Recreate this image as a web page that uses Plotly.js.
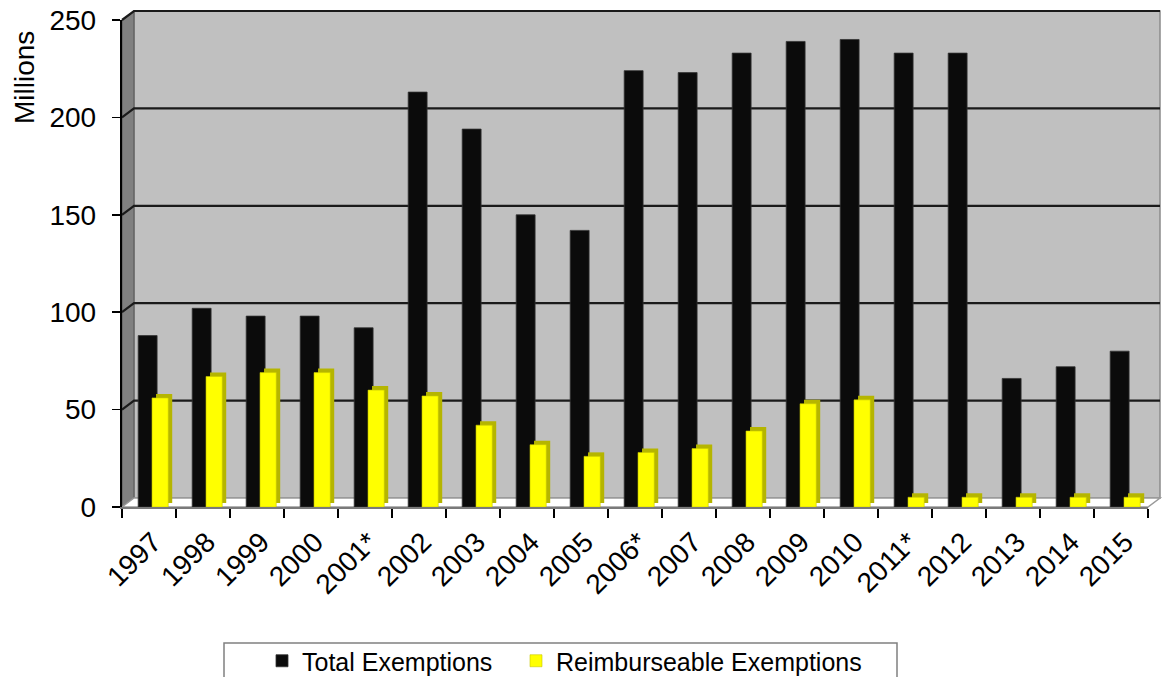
<!DOCTYPE html>
<html>
<head>
<meta charset="utf-8">
<script src="https://cdn.plot.ly/plotly-3.0.1.min.js"></script>
<style>html,body{margin:0;padding:0;background:#fff;}#chart{width:1171px;height:677px;}</style>
</head>
<body>
<div id="chart"></div>
<script>
// ---- data ----
const years = ["1997","1998","1999","2000","2001*","2002","2003","2004","2005","2006*","2007","2008","2009","2010","2011*","2012","2013","2014","2015"];
const totalExemptions = [88,102,98,98,92,213,194,150,142,224,223,233,239,240,233,233,66,72,80];
const reimbExemptions = [56,67,69,69,60,57,42,32,26,28,30,39,53,55,5,5,5,5,5];
const yTicks = [0,50,100,150,200,250];

// ---- geometry (pixels) ----
const WIDTH = 1171, HEIGHT = 677;
const L = 122, R = 1148, T = 20, B = 507;
const PW = R - L, PH = B - T;
const DX = 12, DY = 9; // 3D depth offset
const YMAX = 250;
const px = p => (p - L) / PW;
const py = p => (B - p) / PH;
const pt = (x, y) => px(x) + ',' + py(y);

const FONT = 'Liberation Sans, Arial, sans-serif';

const shapes = [];
// back wall
shapes.push({type:'rect', xref:'paper', yref:'paper', layer:'below',
  x0:px(L+DX), x1:px(R+DX), y0:py(B-DY), y1:py(T-DY),
  fillcolor:'#c0c0c0', line:{color:'#8a8a8a', width:1.5}});
// left side wall
shapes.push({type:'path', xref:'paper', yref:'paper', layer:'below',
  path:'M'+pt(L,T)+' L'+pt(L+DX,T-DY)+' L'+pt(L+DX,B-DY)+' L'+pt(L,B)+' Z',
  fillcolor:'#808080', line:{color:'#555', width:1}});
// floor
shapes.push({type:'path', xref:'paper', yref:'paper', layer:'below',
  path:'M'+pt(L,B)+' L'+pt(L+DX,B-DY)+' L'+pt(R+DX,B-DY)+' L'+pt(R,B)+' Z',
  fillcolor:'#ffffff', line:{color:'#9a9a9a', width:1.5}});
// gridlines on back wall
yTicks.forEach(v => {
  if (v === 0) return;
  const yy = B - v * PH / YMAX;
  shapes.push({type:'path', xref:'paper', yref:'paper', layer:'below',
    path:'M'+pt(L,yy)+' L'+pt(L+DX,yy-DY)+' L'+pt(R+DX,yy-DY),
    line:{color:'#1a1a1a', width:2.2}});
});
// legend box
shapes.push({type:'rect', xref:'paper', yref:'paper', layer:'above',
  x0:px(224), x1:px(897), y0:py(643), y1:py(690),
  fillcolor:'rgba(0,0,0,0)', line:{color:'#808080', width:1.5}});

const DEPTH_UNITS = 4 * YMAX / PH; // ~4px in data units

const traces = [
  {type:'bar', name:'Total Exemptions', x:years, y:totalExemptions,
   offset:-0.2, width:0.35, legend:'legend',
   marker:{color:'#0b0b0b', line:{color:'#333', width:0.8}}},
  {type:'bar', name:'Reimb side', x:years, y:reimbExemptions,
   base:DEPTH_UNITS, offset:0.13, width:0.3, showlegend:false, hoverinfo:'skip',
   marker:{color:'#b5b500', line:{width:0}}},
  {type:'bar', name:'Reimburseable Exemptions', x:years, y:reimbExemptions,
   offset:0.056, width:0.3, legend:'legend2',
   marker:{color:'#ffff00', line:{color:'#c8c800', width:0.6}}}
];

const legendBase = {orientation:'h', xref:'container', yref:'container',
  xanchor:'left', y:1-661/HEIGHT, yanchor:'middle',
  font:{family:FONT, size:25, color:'#000'}, bgcolor:'rgba(0,0,0,0)', borderwidth:0};

const layout = {
  width:WIDTH, height:HEIGHT,
  margin:{l:L, r:WIDTH-R, t:T, b:HEIGHT-B, pad:0},
  paper_bgcolor:'#ffffff', plot_bgcolor:'rgba(0,0,0,0)',
  barmode:'overlay',
  font:{family:FONT, color:'#000', size:26},
  showlegend:true,
  legend:Object.assign({}, legendBase, {x:262/WIDTH}),
  legend2:Object.assign({}, legendBase, {x:516/WIDTH}),
  xaxis:{type:'category', tickson:'boundaries', ticks:'outside', ticklen:9, tickwidth:1.5,
    tickcolor:'#000', showline:true, linecolor:'#7a7a7a', linewidth:1.5,
    showgrid:false, tickangle:-45, tickfont:{family:FONT, size:28, color:'#000'},
    ticklabelstandoff:6, ticklabelshift:4,
    range:[-0.5, years.length-0.5], fixedrange:true},
  yaxis:{range:[0,YMAX], tickvals:yTicks, ticks:'outside', ticklen:8, tickwidth:1.5,
    tickcolor:'#000', showline:true, linecolor:'#000', linewidth:2.2,
    showgrid:false, zeroline:false, tickfont:{family:FONT, size:28, color:'#000'},
    ticklabelstandoff:10, fixedrange:true},
  shapes:shapes,
  annotations:[{text:'Millions', xref:'paper', yref:'paper', x:px(24), y:py(78),
    showarrow:false, textangle:-90, font:{family:FONT, size:28, color:'#000'},
    xanchor:'center', yanchor:'middle'}]
};

Plotly.newPlot('chart', traces, layout, {displayModeBar:false, staticPlot:true});
</script>
</body>
</html>
